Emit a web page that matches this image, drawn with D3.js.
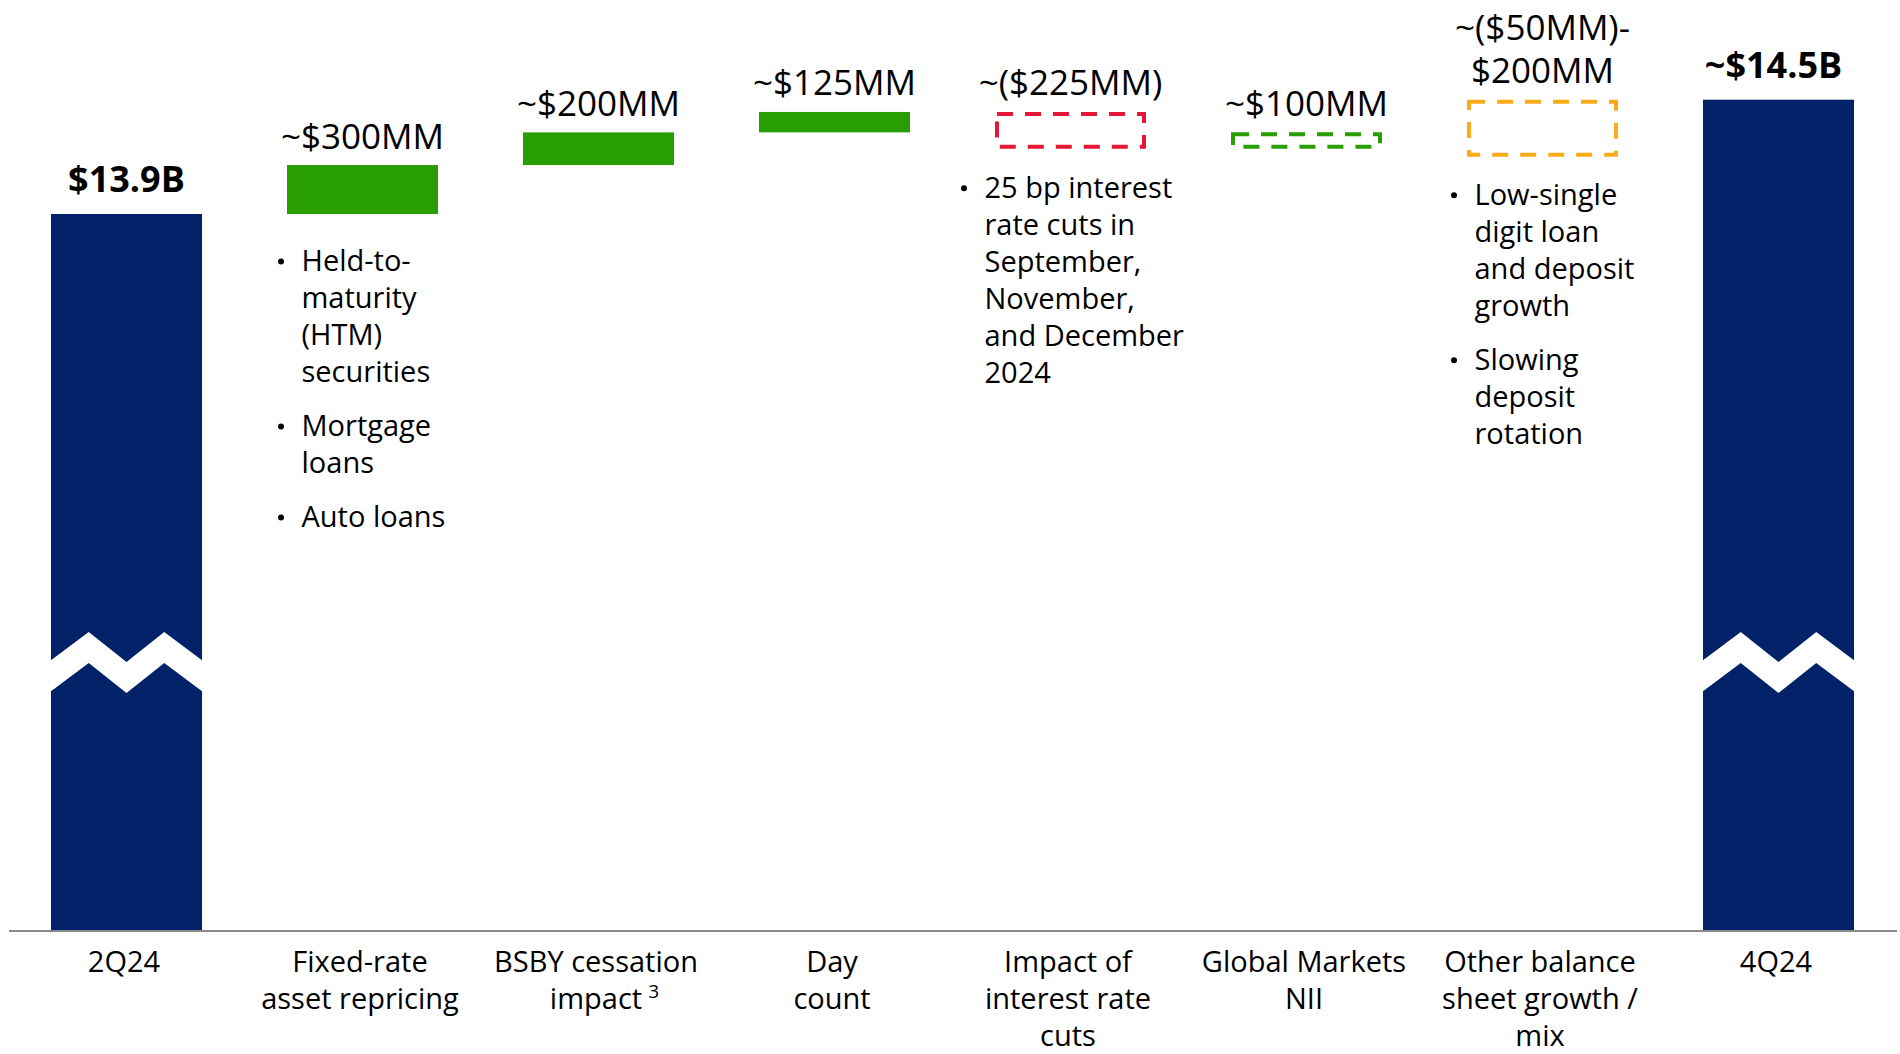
<!DOCTYPE html>
<html><head><meta charset="utf-8">
<script src="https://cdn.jsdelivr.net/npm/d3@7"></script>
<style>
html,body{margin:0;padding:0;background:#fff;}
svg{display:block;font-family:"Open Sans",sans-serif;}
</style>
</head><body>
<svg id="chart" width="1900" height="1054"></svg>
<script>
// ---------------- data ----------------
const categories = ["2Q24","Fixed-rate asset repricing","BSBY cessation impact","Day count",
  "Impact of interest rate cuts","Global Markets NII","Other balance sheet growth / mix","4Q24"];
const categoryLines = [["2Q24"],["Fixed-rate","asset repricing"],["BSBY cessation","impact"],["Day","count"],
  ["Impact of","interest rate","cuts"],["Global Markets","NII"],["Other balance","sheet growth /","mix"],["4Q24"]];
const footnoteMarks = ["","","3","","","","",""];
// bar extents in $B
const barLow  = [0,    13.9, 14.2, 14.4,  14.3,  14.3, 14.25, 0];
const barHigh = [13.9, 14.2, 14.4, 14.525,14.525,14.4, 14.6,  14.6];
const barKind = ["total","increase","increase","increase","decrease","increaseEst","range","total"];
const valueLabels = [["$13.9B"],["~$300MM"],["~$200MM"],["~$125MM"],["~($225MM)"],["~$100MM"],
  ["~($50MM)-","$200MM"],["~$14.5B"]];
const bulletNotes = [null,
  [["Held-to-","maturity","(HTM)","securities"],["Mortgage","loans"],["Auto loans"]],
  null, null,
  [["25 bp interest","rate cuts in","September,","November,","and December","2024"]],
  null,
  [["Low-single","digit loan","and deposit","growth"],["Slowing","deposit","rotation"]],
  null];
const axisBreakValue = 11.34;

// ---------------- styles / layout ----------------
const kindStyle = {
  total:       {fill:"#012169", stroke:null},
  increase:    {fill:"#299e00", stroke:null},
  decrease:    {fill:"none",    stroke:"#e31837"},
  increaseEst: {fill:"none",    stroke:"#299e00"},
  range:       {fill:"none",    stroke:"#fbab18"}
};
const noteLayout = {1:{dx:-61, dy:57}, 4:{dx:-86, dy:49}, 6:{dx:-68, dy:48}};

const svg = d3.select("#chart");
const x = d3.scaleBand().domain(categories).range([8.5,1896.5]).paddingInner(0.36).paddingOuter(0.18);
const y = d3.scaleLinear().domain([0, axisBreakValue, 15]).range([930.5, 632, 34.4]);
const bw = x.bandwidth();

const rows = categories.map((c,i)=>({c,i,low:barLow[i],high:barHigh[i],kind:barKind[i]}));

// bars
svg.append("g").selectAll("rect").data(rows).join("rect")
  .attr("x", d => kindStyle[d.kind].stroke ? x(d.c)+2 : x(d.c))
  .attr("y", d => kindStyle[d.kind].stroke ? y(d.high)+2 : y(d.high))
  .attr("width", d => kindStyle[d.kind].stroke ? bw-4 : bw)
  .attr("height", d => (y(d.low)-y(d.high)) - (kindStyle[d.kind].stroke ? 4 : 0))
  .attr("fill", d => kindStyle[d.kind].fill)
  .attr("stroke", d => kindStyle[d.kind].stroke)
  .attr("stroke-width", d => kindStyle[d.kind].stroke ? 4 : null)
  .attr("stroke-dasharray", d => kindStyle[d.kind].stroke ? "16 12" : null);

// axis-break zigzags on the total bars
const yb = y(axisBreakValue);
svg.append("g").selectAll("polygon").data(rows.filter(d=>d.kind==="total")).join("polygon")
  .attr("fill","#fff")
  .attr("points", d => {
    const x0 = x(d.c), w = bw, t = 31;
    const up = [[x0-1,yb+29],[x0+0.25*w,yb],[x0+0.5*w,yb+30],[x0+0.75*w,yb],[x0+w+1,yb+29]];
    const lo = up.slice().reverse().map(p=>[p[0],p[1]+t]);
    return up.concat(lo).map(p=>p.join(",")).join(" ");
  });

// baseline axis
const axis = svg.append("g").attr("transform",`translate(0,${y(0)})`)
  .call(d3.axisBottom(x).tickSize(0).tickFormat(""));
axis.select(".domain").attr("stroke","#8a8a8a").attr("stroke-width",2);

// category labels
const catG = svg.append("g").attr("font-size",29).attr("fill","#000").attr("text-anchor","middle");
rows.forEach(d=>{
  const cx = x(d.c)+bw/2-2.5;
  categoryLines[d.i].forEach((line,k)=>{
    const by = 972+k*37;
    const t = catG.append("text").attr("x",cx).attr("y",by).text(line);
    if (k===categoryLines[d.i].length-1 && footnoteMarks[d.i]) {
      const bb = t.node().getBBox();
      catG.append("text").attr("text-anchor","start").attr("font-size",19)
        .attr("x", bb.x+bb.width+6).attr("y",by-11).text(footnoteMarks[d.i]);
    }
  });
});

// value labels
const valG = svg.append("g").attr("text-anchor","middle").attr("fill","#000");
rows.forEach(d=>{
  const bold = d.kind==="total";
  const lines = valueLabels[d.i];
  const cx = x(d.c)+bw/2 - (d.i===rows.length-1 ? 5 : 0);
  const base = y(d.high) - (bold ? 22 : 16.5);
  lines.forEach((line,k)=>{
    valG.append("text").attr("x",cx).attr("y",base-(lines.length-1-k)*43.5)
      .attr("font-size", bold ? 36 : 35).attr("font-weight", bold ? 700 : 400).text(line);
  });
});

// bullet notes
const noteG = svg.append("g").attr("font-size",29).attr("fill","#000");
rows.forEach(d=>{
  const notes = bulletNotes[d.i];
  if (!notes) return;
  const L = noteLayout[d.i];
  const tx = x(d.c)+bw/2+L.dx;
  let by = y(d.low)+L.dy;
  notes.forEach(par=>{
    noteG.append("circle").attr("cx",tx-20.5).attr("cy",by-9.5).attr("r",3).attr("fill","#000");
    par.forEach(line=>{
      noteG.append("text").attr("x",tx).attr("y",by).text(line);
      by += 37;
    });
    by += 17;
  });
});
</script>
</body></html>
